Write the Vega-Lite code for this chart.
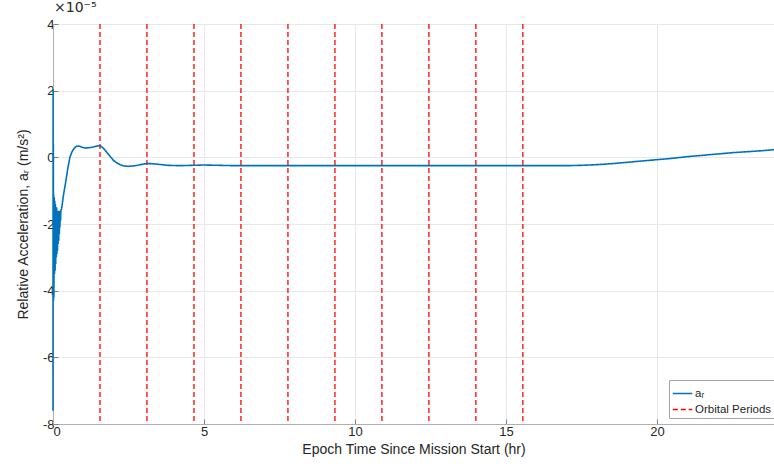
{
  "$schema": "https://vega.github.io/schema/vega-lite/v6.json",
  "autosize": {"type": "none"},
  "padding": {"left": 53, "top": 24, "right": 0, "bottom": 46},
  "width": 721,
  "height": 400,
  "background": "white",
  "title": {"text": "×10⁻⁵", "anchor": "start", "frame": "group", "fontSize": 14, "fontWeight": "normal", "font": "DejaVu Sans", "color": "#262626", "offset": 3, "dx": 1},
  "datasets": {
    "curve": [
      {"t_hr": 0, "ar_1e5": -7.6}, {"t_hr": 0.004, "ar_1e5": 2.06}, {"t_hr": 0.008, "ar_1e5": -4.0}, {"t_hr": 0.012, "ar_1e5": 0.4},
      {"t_hr": 0.016, "ar_1e5": -4.3}, {"t_hr": 0.02, "ar_1e5": -1.1}, {"t_hr": 0.03, "ar_1e5": -4.2}, {"t_hr": 0.04, "ar_1e5": -1.2},
      {"t_hr": 0.05, "ar_1e5": -3.5}, {"t_hr": 0.06, "ar_1e5": -1.3}, {"t_hr": 0.07, "ar_1e5": -3.4}, {"t_hr": 0.08, "ar_1e5": -1.4},
      {"t_hr": 0.09, "ar_1e5": -3.2}, {"t_hr": 0.1, "ar_1e5": -1.5}, {"t_hr": 0.11, "ar_1e5": -3.0}, {"t_hr": 0.12, "ar_1e5": -1.5},
      {"t_hr": 0.13, "ar_1e5": -2.9}, {"t_hr": 0.14, "ar_1e5": -1.6}, {"t_hr": 0.15, "ar_1e5": -2.8}, {"t_hr": 0.16, "ar_1e5": -1.6},
      {"t_hr": 0.17, "ar_1e5": -2.6}, {"t_hr": 0.18, "ar_1e5": -1.6}, {"t_hr": 0.19, "ar_1e5": -2.5}, {"t_hr": 0.2, "ar_1e5": -1.6},
      {"t_hr": 0.21, "ar_1e5": -2.3}, {"t_hr": 0.22, "ar_1e5": -1.7}, {"t_hr": 0.23, "ar_1e5": -2.1}, {"t_hr": 0.24, "ar_1e5": -1.6},
      {"t_hr": 0.25, "ar_1e5": -1.9}, {"t_hr": 0.26, "ar_1e5": -1.6}, {"t_hr": 0.28, "ar_1e5": -1.55}, {"t_hr": 0.3, "ar_1e5": -1.45},
      {"t_hr": 0.34, "ar_1e5": -1.17}, {"t_hr": 0.4, "ar_1e5": -0.85}, {"t_hr": 0.45, "ar_1e5": -0.57}, {"t_hr": 0.5, "ar_1e5": -0.28},
      {"t_hr": 0.56, "ar_1e5": 0.0}, {"t_hr": 0.62, "ar_1e5": 0.15}, {"t_hr": 0.67, "ar_1e5": 0.23}, {"t_hr": 0.72, "ar_1e5": 0.29},
      {"t_hr": 0.78, "ar_1e5": 0.33}, {"t_hr": 0.85, "ar_1e5": 0.34}, {"t_hr": 0.92, "ar_1e5": 0.32}, {"t_hr": 1.0, "ar_1e5": 0.29},
      {"t_hr": 1.1, "ar_1e5": 0.28}, {"t_hr": 1.2, "ar_1e5": 0.29}, {"t_hr": 1.33, "ar_1e5": 0.31}, {"t_hr": 1.45, "ar_1e5": 0.34},
      {"t_hr": 1.55, "ar_1e5": 0.35}, {"t_hr": 1.62, "ar_1e5": 0.31}, {"t_hr": 1.7, "ar_1e5": 0.24}, {"t_hr": 1.8, "ar_1e5": 0.13},
      {"t_hr": 1.9, "ar_1e5": 0.02}, {"t_hr": 2.0, "ar_1e5": -0.09}, {"t_hr": 2.1, "ar_1e5": -0.16}, {"t_hr": 2.22, "ar_1e5": -0.22},
      {"t_hr": 2.35, "ar_1e5": -0.26}, {"t_hr": 2.49, "ar_1e5": -0.27}, {"t_hr": 2.65, "ar_1e5": -0.26}, {"t_hr": 2.8, "ar_1e5": -0.24},
      {"t_hr": 3.0, "ar_1e5": -0.2}, {"t_hr": 3.1, "ar_1e5": -0.19}, {"t_hr": 3.25, "ar_1e5": -0.19}, {"t_hr": 3.4, "ar_1e5": -0.2},
      {"t_hr": 3.6, "ar_1e5": -0.22}, {"t_hr": 3.8, "ar_1e5": -0.24}, {"t_hr": 4.2, "ar_1e5": -0.25}, {"t_hr": 4.6, "ar_1e5": -0.24},
      {"t_hr": 5.0, "ar_1e5": -0.23}, {"t_hr": 5.5, "ar_1e5": -0.24}, {"t_hr": 6.0, "ar_1e5": -0.25}, {"t_hr": 7, "ar_1e5": -0.25},
      {"t_hr": 8, "ar_1e5": -0.25}, {"t_hr": 9, "ar_1e5": -0.25}, {"t_hr": 10, "ar_1e5": -0.25}, {"t_hr": 11, "ar_1e5": -0.25},
      {"t_hr": 12, "ar_1e5": -0.25}, {"t_hr": 13, "ar_1e5": -0.25}, {"t_hr": 14, "ar_1e5": -0.25}, {"t_hr": 15, "ar_1e5": -0.25},
      {"t_hr": 16, "ar_1e5": -0.25}, {"t_hr": 17, "ar_1e5": -0.25}, {"t_hr": 17.5, "ar_1e5": -0.24}, {"t_hr": 18, "ar_1e5": -0.22},
      {"t_hr": 18.5, "ar_1e5": -0.19}, {"t_hr": 19, "ar_1e5": -0.15}, {"t_hr": 19.5, "ar_1e5": -0.11}, {"t_hr": 20, "ar_1e5": -0.07},
      {"t_hr": 20.5, "ar_1e5": -0.03}, {"t_hr": 21, "ar_1e5": 0.02}, {"t_hr": 21.5, "ar_1e5": 0.06}, {"t_hr": 22, "ar_1e5": 0.1},
      {"t_hr": 22.5, "ar_1e5": 0.14}, {"t_hr": 23, "ar_1e5": 0.17}, {"t_hr": 23.5, "ar_1e5": 0.2}, {"t_hr": 23.87, "ar_1e5": 0.23}
    ],
    "periods": [
      {"t_hr": 1.556}, {"t_hr": 3.11}, {"t_hr": 4.667}, {"t_hr": 6.222}, {"t_hr": 7.778},
      {"t_hr": 9.334}, {"t_hr": 10.889}, {"t_hr": 12.445}, {"t_hr": 14.0}, {"t_hr": 15.556}
    ]
  },
  "layer": [
    {
      "data": {"name": "periods"},
      "transform": [{"calculate": "'Orbital Periods'", "as": "series"}],
      "mark": {"type": "rule", "strokeWidth": 1.3, "clip": true},
      "encoding": {
        "x": {"field": "t_hr", "type": "quantitative"},
        "color": {"field": "series", "type": "nominal"},
        "strokeDash": {"field": "series", "type": "nominal"}
      }
    },
    {
      "data": {"name": "curve"},
      "transform": [{"calculate": "'aᵣ'", "as": "series"}],
      "mark": {"type": "line", "strokeWidth": 1.6, "clip": false, "interpolate": "linear", "strokeJoin": "miter"},
      "encoding": {
        "x": {
          "field": "t_hr", "type": "quantitative",
          "scale": {"domain": [0, 23.87], "nice": false, "zero": false},
          "axis": {"values": [0, 5, 10, 15, 20], "title": "Epoch Time Since Mission Start (hr)", "labelPadding": 6, "titlePadding": 4}
        },
        "y": {
          "field": "ar_1e5", "type": "quantitative",
          "scale": {"domain": [-8, 4], "nice": false},
          "axis": {"values": [-8, -6, -4, -2, 0, 2, 4], "labelExpr": "datum.value + ''", "title": "Relative Acceleration, aᵣ (m/s²)", "labelPadding": 4, "titlePadding": 12}
        },
        "color": {
          "field": "series", "type": "nominal",
          "scale": {"domain": ["aᵣ", "Orbital Periods"], "range": ["#0072BD", "#FF0000"]},
          "legend": {"title": null}
        },
        "strokeDash": {
          "field": "series", "type": "nominal",
          "scale": {"domain": ["aᵣ", "Orbital Periods"], "range": [[1, 0], [5, 3]]},
          "legend": {"title": null}
        }
      }
    }
  ],
  "config": {
    "view": {"stroke": null},
    "axis": {
      "grid": true,
      "gridColor": "#e8e8e8",
      "domainColor": "#b0b0b0",
      "tickColor": "#808080",
      "tickSize": -5,
      "labelFont": "Liberation Sans",
      "labelFontSize": 13,
      "labelColor": "#262626",
      "titleFont": "Liberation Sans",
      "titleFontSize": 14,
      "titleFontWeight": "normal",
      "titleColor": "#262626"
    },
    "legend": {
      "orient": "none",
      "legendX": 616,
      "legendY": 356,
      "fillColor": "white",
      "strokeColor": "#a6a6a6",
      "padding": 3,
      "symbolType": "stroke",
      "symbolSize": 380,
      "symbolStrokeWidth": 1.5,
      "labelFont": "Liberation Sans",
      "labelFontSize": 11.5,
      "labelColor": "#262626",
      "labelOffset": 2,
      "rowPadding": 0
    }
  }
}
